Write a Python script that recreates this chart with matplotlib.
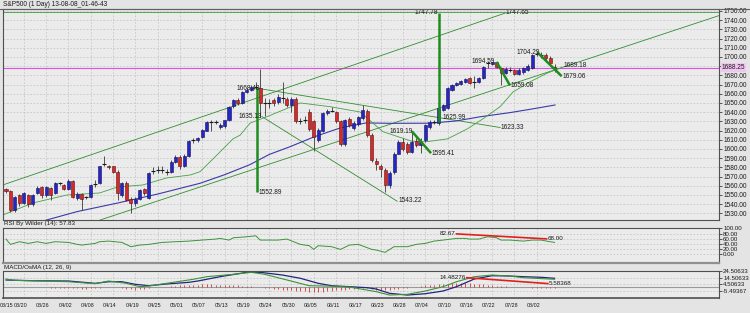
import matplotlib
matplotlib.use('Agg')
import matplotlib.pyplot as plt
from matplotlib.patches import Rectangle
from matplotlib.lines import Line2D

plt.rcParams['font.family'] = ['Liberation Sans', 'DejaVu Sans']

# ---------------- data ----------------
TITLE = 'S&P500 (1 Day) 13-08-08_01-46-43'
RSI_TITLE = 'RSI By Wilder (14): 57.83'
MACD_TITLE = 'MACD/OsMA (12, 26, 9)'

date_labels = ['03/15', '03/20', '03/26', '04/02', '04/08', '04/14', '04/19', '04/25',
               '05/01', '05/07', '05/13', '05/19', '05/24', '05/30', '06/05', '06/11',
               '06/17', '06/23', '06/28', '07/04', '07/10', '07/16', '07/22', '07/28', '08/02']
date_bars = [0.22] + [3.3 + 5 * k for k in range(24)]
grid_bars = [4 + 5 * k for k in range(24)]

opens = [1556, 1554, 1534, 1550, 1541, 1550, 1540, 1552, 1559, 1550,
         1558, 1552, 1563, 1561, 1556, 1565, 1547, 1551, 1548, 1548,
         1561, 1563, 1583, 1582, 1581, 1575, 1550, 1563, 1546, 1541,
         1546, 1557, 1547, 1576, 1577, 1578, 1576, 1575, 1586, 1591,
         1581, 1592, 1609, 1610, 1613, 1620, 1629, 1630, 1624, 1625,
         1631, 1647, 1653, 1650, 1662, 1664, 1667, 1666, 1649, 1650,
         1653, 1651, 1655, 1654, 1648, 1654, 1630, 1632, 1640, 1630,
         1610, 1620, 1639, 1641, 1640, 1630, 1605, 1633, 1623, 1627,
         1634, 1641, 1615, 1587, 1582, 1577, 1561, 1575, 1595, 1608,
         1605, 1597, 1609, 1604, 1610, 1624, 1629, 1628, 1642, 1644,
         1664, 1669, 1671, 1673, 1677, 1672, 1673, 1677, 1693, 1692,
         1694, 1688, 1683, 1686, 1686, 1682, 1684, 1686, 1688, 1703,
         1703, 1702, 1699, 1689.5]
highs = [1558, 1555, 1549, 1551, 1553, 1551, 1551, 1560, 1560, 1560,
         1559, 1564, 1564, 1562, 1567, 1566, 1553, 1552, 1549, 1562,
         1566, 1582, 1592, 1583, 1582, 1577, 1564, 1565, 1548, 1548,
         1557, 1558, 1575, 1580, 1581, 1581, 1578, 1588, 1593, 1593,
         1594, 1610, 1612, 1613, 1622, 1630, 1632, 1632, 1628, 1632,
         1647, 1654, 1655, 1663, 1666, 1669, 1673, 1687, 1655, 1654,
         1655, 1660, 1673, 1657, 1656, 1656, 1634, 1636, 1643, 1632,
         1623, 1640, 1643, 1646, 1641, 1631, 1633, 1635, 1630, 1636,
         1648, 1643, 1617, 1590, 1584, 1579, 1576, 1597, 1610, 1612,
         1608, 1619, 1612, 1612, 1627, 1631, 1632, 1645, 1649, 1667,
         1671, 1673, 1675, 1677, 1678, 1679, 1678, 1690, 1696, 1695,
         1695, 1689, 1689, 1689, 1687, 1688, 1689, 1692, 1703, 1706,
         1705, 1704, 1701, 1692]
lows = [1552, 1532, 1531, 1538, 1540, 1537, 1538, 1551, 1547, 1548,
        1545, 1551, 1561, 1555, 1555, 1547, 1545, 1534, 1546, 1547,
        1559, 1562, 1581, 1578, 1574, 1545, 1548, 1543, 1530, 1538,
        1545, 1550, 1546, 1573, 1574, 1574, 1572, 1574, 1585, 1578,
        1580, 1591, 1607, 1608, 1612, 1619, 1620, 1627, 1622, 1623,
        1630, 1645, 1648, 1649, 1661, 1663, 1665, 1635, 1636, 1645,
        1647, 1649, 1650, 1646, 1640, 1628, 1627, 1628, 1620, 1598,
        1608, 1618, 1637, 1640, 1628, 1603, 1603, 1624, 1621, 1625,
        1632, 1613, 1586, 1577, 1570, 1553, 1558, 1573, 1594, 1598,
        1595, 1596, 1602, 1595.4, 1608, 1622, 1627, 1626, 1641, 1643,
        1663, 1668, 1670, 1672, 1671, 1666, 1672, 1676, 1688, 1691,
        1688, 1670, 1681, 1684, 1680, 1680, 1682, 1685, 1687, 1701,
        1699, 1697, 1691, 1684]
closes = [1554, 1534, 1548, 1541, 1552, 1540, 1550, 1558, 1550, 1559,
          1550, 1563, 1562, 1557, 1565, 1548, 1551, 1546, 1547, 1561,
          1562, 1581, 1584, 1580, 1575, 1552, 1563, 1545, 1541, 1546,
          1555, 1552, 1574, 1577, 1578, 1577, 1575, 1586, 1591, 1581,
          1592, 1609, 1610, 1612, 1621, 1629, 1630, 1629, 1626, 1631,
          1646, 1653, 1650, 1662, 1664, 1667, 1668, 1650, 1650, 1650.5,
          1650, 1657, 1655.5, 1648, 1654, 1630, 1631, 1631, 1622, 1613,
          1621, 1639, 1641, 1642, 1630, 1605, 1631, 1626, 1628, 1635,
          1642, 1615, 1588, 1584, 1578, 1561, 1574, 1595, 1608, 1600,
          1597, 1608, 1604, 1608, 1626, 1629, 1630, 1644, 1648, 1666,
          1670, 1672, 1674, 1676, 1672, 1673, 1677, 1689, 1694, 1694,
          1689, 1683, 1687, 1686.5, 1682, 1686, 1688, 1690, 1702, 1704,
          1702, 1699, 1693, 1688.25]

current_price = 1688.25
top_level = 1749.0
price_ticks = [1530 + 10 * k for k in range(23)]

# moving averages (bar, value)
ma_green_bars = [-0.7, 6, 13.7, 21, 25, 30.7, 36, 41.3, 43.5, 47, 50.9, 52.5, 54.7, 58.5, 66,
                 72.6, 79.4, 84.5, 91.3, 94.3, 99, 103.5, 107, 110.8, 113.7, 117.5, 121.3, 124.2]
ma_green_vals = [1528.3, 1541.3, 1550, 1552.2, 1558.7, 1560.9, 1568.5, 1571.7, 1575.3, 1592,
                 1611, 1615, 1628, 1635.1, 1650, 1646, 1640.2, 1618.8, 1607.9, 1607.9, 1611,
                 1622, 1633, 1646, 1662, 1673, 1682.3, 1687.7]
ma_blue_bars = [5, 9.1, 16, 24.8, 34, 43.5, 49, 54.7, 59, 63.7, 69, 74.9, 80.7, 86.1, 95.1,
                101, 106.3, 113, 118, 123.1]
ma_blue_vals = [1516, 1522.8, 1532, 1541, 1551, 1562.7, 1572, 1583, 1594, 1602.5, 1613, 1622.8,
                1628.3, 1627.9, 1628, 1630.5, 1635, 1639.5, 1643.5, 1647.8]

# drawn objects: (bar0, price0, bar1, price1)
thin_lines = [(-0.7, 1560.9, 111.9, 1747.65),
              (21.1, 1522.8, 159.9, 1745.0),
              (56.3, 1666.0, 110.8, 1623.33),
              (57.4, 1635.13, 87.7, 1543.22)]
thick_lines = [(56.3, 1666.0, 56.3, 1552.89),
               (97.1, 1629.0, 97.1, 1747.78),
               (91.0, 1619.19, 95.3, 1595.41),
               (110.0, 1694.59, 113.0, 1669.0),
               (119.3, 1704.29, 124.6, 1679.06)]
# (text, bar, price, alignment)
level_labels = [('1668.40', 56.9, 1665.2, 'right'),
                ('1635.13', 57.4, 1635.1, 'right'),
                ('1552.89', 56.6, 1552.2, 'left'),
                ('1543.22', 87.9, 1543.8, 'left'),
                ('1623.33', 110.8, 1623.6, 'left'),
                ('1619.19', 91.3, 1618.8, 'right'),
                ('1595.41', 95.5, 1595.3, 'left'),
                ('1625.99', 97.8, 1634.5, 'left'),
                ('1747.78', 96.9, 1748.2, 'right'),
                ('1747.65', 111.9, 1748.2, 'left'),
                ('1694.59', 109.6, 1694.9, 'right'),
                ('1659.08', 113.2, 1668.5, 'left'),
                ('1704.29', 119.7, 1704.7, 'right'),
                ('1689.18', 125.1, 1690.5, 'left'),
                ('1679.06', 124.7, 1679.3, 'left')]

# RSI
rsi_bars = [0, 1, 3, 5, 7, 9, 11, 14, 16, 17, 20, 21, 23, 26, 28, 30, 32, 35, 38, 41,
            44, 47, 48, 50, 51, 54, 56, 57, 61, 63, 66, 68, 69, 70, 73, 75, 77, 79, 82, 83,
            85, 87, 90, 92, 94, 96, 98, 101, 103, 104, 106, 108, 110, 111, 113, 116, 118, 120, 122, 123]
rsi_vals = [67.4, 51.8, 59.6, 54.7, 59.6, 54.7, 59.6, 57.6, 51.8, 49.8,
            54.7, 59.6, 61.5, 57.6, 45, 49.8, 51.8, 57.6, 59.6, 61.5,
            64.5, 67.4, 69.4, 64.5, 71.3, 74.2, 77.1, 64.5, 64.5, 67.4,
            51.8, 47.9, 37.1, 47.9, 45, 37.1, 49.8, 51.8, 37.1, 35.2,
            28.4, 45, 45, 51.8, 54.7, 61.5, 64.5, 69.4, 69.4, 67.4,
            67.4, 74.2, 71.3, 64.5, 64.5, 61.5, 64.5, 64.5, 59.6, 57.6]
rsi_tick_vals = [100.9, 81.5, 66.8, 52.1, 37.4, 22.6]
rsi_tick_text = ['100.00', '80.00', '60.00', '40.00', '20.00', '0.00']
rsi_trend = (101.0, 82.67, 121.2, 68.00)

# MACD
macd_bars = [0, 2, 14, 20, 23, 27, 30, 32, 36, 42, 45, 51, 55, 58, 63, 68, 72, 77, 83, 86,
             90, 94, 98, 101, 105, 109, 113, 116, 123]
macd_vals = [12.5, 10.5, 8.4, 5.4, 9.5, 6.0, 0.9, 1.9, 6.0, 12.1, 16.0, 19.6, 22.6, 19.6, 11.0,
             2.4, 1.9, 0.4, -6.6, -11.7, -10.6, -5.6, 0.9, 8.4, 16.0, 18.5, 17.0, 14.5, 12.1]
sig_bars = [0, 6, 14, 20, 23, 26, 29, 32, 36, 41, 43, 48, 54, 57, 62, 66, 70, 73, 77, 81, 83,
            86, 90, 94, 98, 101, 105, 109, 113, 116, 120, 123]
sig_vals = [11.0, 9.9, 9.5, 6.0, 8.4, 8.4, 4.5, 2.4, 5.0, 7.5, 9.5, 16.0, 22.6, 22.6, 18.5,
            13.6, 6.0, 2.4, 0.9, -0.6, -2.6, -9.1, -11.7, -9.7, -5.6, 0.9, 12.5, 17.5, 17.0,
            16.0, 15.1, 13.6]
osma = [0.5, 0.4, 0.3, 0.2, 0.1, 0, -0.1, -0.2, -0.3, -0.3, -0.4, -0.5, -0.6, -0.7, -0.8, -0.9,
        -1.5, -2, -2, -1.5, -1,
        -0.5, 0, 0.3, 0.3, 0, -0.5,
        -2, -3, -3.5, -3, -2,
        -1, -0.3, 0.3, 0.8, 1.2,
        2, 2.5, 3, 3, 3.5, 4, 4, 4.5, 4.5, 4.5, 4, 4, 3.5, 3.5, 3, 3, 2.5, 2, 1.5, 1,
        0.3, -0.5, -1.5,
        -2.5, -3, -3.5, -4, -4.5, -5, -5.5, -6, -6.5, -7, -7, -6.5, -6, -5, -4.5, -4, -3.5, -3, -2.5,
        -2, -1.5, -1.5, -2,
        -4, -4.5, -4, -3.5, -3, -2, -1,
        -0.5, 0.5, 1, 2,
        3, 3.5, 4, 4.5, 5, 5.5, 6, 6.5, 6.5, 6.5, 6, 5.5, 5, 4.5, 4, 3, 2.5, 2,
        1.5, 1, 0.5, 0.3, 0,
        -0.3, -0.5, -0.5, -0.8, -1, -1.2, -1.5]
macd_tick_vals = [24.50633, 14.50633, 4.50633, -5.49367]
macd_trend = (103.3, 14.48276, 121.5, 5.58368)

# ---------------- layout ----------------
W, H = 750.0, 313.0
X0, DX = 6.0, 4.46
BG = '#e4e4e4'
PANEL = '#ebebeb'
GRID = dict(color='#c6c6c6', linestyle=(0, (2, 2)), linewidth=0.6)
FS = 4.7
TXT = '#1a1a1a'

fig = plt.figure(figsize=(7.5, 3.13), dpi=100)
fig.patch.set_facecolor(BG)


def px_axes(l, t, r, b):
    ax = fig.add_axes([l / W, 1 - b / H, (r - l) / W, (b - t) / H])
    ax.set_facecolor(PANEL)
    ax.set_xlim((l - X0) / DX, (r - X0) / DX)
    for s in ax.spines.values():
        s.set_color('#505050')
        s.set_linewidth(0.8)
    ax.yaxis.tick_right()
    ax.set_xticks(grid_bars)
    ax.tick_params(axis='x', length=0, labelbottom=False)
    ax.tick_params(axis='y', length=2, width=0.5, pad=1, labelsize=FS - 0.3,
                   colors=TXT)
    ax.grid(True, **GRID)
    ax.set_axisbelow(True)
    return ax


# title bar
fig.add_artist(Line2D([0, 1], [1 - 9.0 / H, 1 - 9.0 / H], transform=fig.transFigure,
                      color='#606060', lw=0.8))
fig.text(3 / W, 1 - 4.6 / H, TITLE, fontsize=FS, color=TXT, va='center', ha='left')

# ---- main price panel ----
ax = px_axes(3, 9.3, 719, 220)
ax.set_ylim(1522.8, 1751.8)
ax.set_yticks(price_ticks)
ax.set_yticklabels(['' if p == 1690 else '%.2f' % p for p in price_ticks])
ax.tick_params(axis='y', labelsize=FS)

ax.axhline(top_level, color='#3a9a3a', lw=0.6)
ax.axhline(current_price, color='#e050e0', lw=0.8)

for (b0, p0, b1, p1) in thin_lines:
    ax.plot([b0, b1], [p0, p1], color='#2f8f2f', lw=0.6)

ax.plot(ma_blue_bars, ma_blue_vals, color='#3a3aa8', lw=0.8)
ax.plot(ma_green_bars, ma_green_vals, color='#45a045', lw=0.6)

for i, (o, h, l, c) in enumerate(zip(opens, highs, lows, closes)):
    ax.vlines(i, l, h, color='#3a3a3a', lw=0.6, zorder=3)
    if abs(c - o) < 1.2:
        ax.hlines((o + c) / 2, i - 0.45, i + 0.45, color='#1a1a1a', lw=0.8, zorder=4)
    else:
        up = c > o
        ax.add_patch(Rectangle((i - 0.34, min(o, c)), 0.68, abs(c - o),
                               facecolor='#2626c4' if up else '#d42a2a',
                               edgecolor='#10105a' if up else '#5a1010', lw=0.4, zorder=4))

for (b0, p0, b1, p1) in thick_lines:
    ax.plot([b0, b1], [p0, p1], color='#1e8c1e', lw=1.8, solid_capstyle='butt', zorder=5)

for (t, b, p, ha) in level_labels:
    ax.text(b, p, t, fontsize=FS, color=TXT, ha=ha, va='center', zorder=6)

ax.text(1 + 3.0 / 716, current_price, '%.2f' % current_price, transform=ax.get_yaxis_transform(),
        fontsize=FS, color=TXT, ha='left', va='center',
        bbox=dict(boxstyle='square,pad=0.15', facecolor='#f2c4f2', edgecolor='none'))

# ---- RSI panel ----
fig.text(4 / W, 1 - 224.0 / H, RSI_TITLE, fontsize=FS - 0.2, color=TXT, va='center', ha='left')
ar = px_axes(3, 227.7, 719, 262.8)
ar.set_ylim(-2.4, 100.9)
ar.set_yticks(rsi_tick_vals)
ar.set_yticklabels(rsi_tick_text)
ar.plot(rsi_bars, rsi_vals, color='#3a943a', lw=0.7)
ar.plot([rsi_trend[0], rsi_trend[2]], [rsi_trend[1], rsi_trend[3]], color='#e02020', lw=1.2)
ar.text(rsi_trend[0] - 0.2, rsi_trend[1], '%.2f' % rsi_trend[1], fontsize=FS - 0.2, color=TXT,
        ha='right', va='center')
ar.text(rsi_trend[2] + 0.2, rsi_trend[3], '%.2f' % rsi_trend[3], fontsize=FS - 0.2, color=TXT,
        ha='left', va='center')
ar.spines['bottom'].set_color('#909090')
ar.spines['bottom'].set_linewidth(1.6)

# ---- MACD panel ----
fig.text(4 / W, 1 - 267.3 / H, MACD_TITLE, fontsize=FS - 0.2, color=TXT, va='center', ha='left')
am = px_axes(3, 271, 719, 297.7)
am.set_ylim(-15.7, 24.6)
am.set_yticks(macd_tick_vals)
am.set_yticklabels(['%.5f' % v for v in macd_tick_vals])
am.axhline(0, color='#9a9a9a', lw=0.8)
am.vlines(range(len(osma)), 0, osma, color='#d83030', lw=0.6)
am.plot(sig_bars, sig_vals, color='#24247a', lw=0.9)
am.plot(macd_bars, macd_vals, color='#3a943a', lw=0.8)
am.plot([macd_trend[0], macd_trend[2]], [macd_trend[1], macd_trend[3]], color='#e02020', lw=1.2)
am.text(macd_trend[0] - 0.2, macd_trend[1], '%.5f' % macd_trend[1], fontsize=FS - 0.2, color=TXT,
        ha='right', va='center')
am.text(macd_trend[2] + 0.2, macd_trend[3], '%.5f' % macd_trend[3], fontsize=FS - 0.2, color=TXT,
        ha='left', va='center')
am.set_xticks(date_bars, minor=True)
am.set_xticklabels(date_labels, minor=True)
am.tick_params(axis='x', which='minor', length=0, pad=4, labelsize=FS - 0.8,
               labelcolor=TXT, labelbottom=True)
am.spines['bottom'].set_linewidth(1.2)

fig.savefig('out.png', dpi=100, facecolor=BG)
